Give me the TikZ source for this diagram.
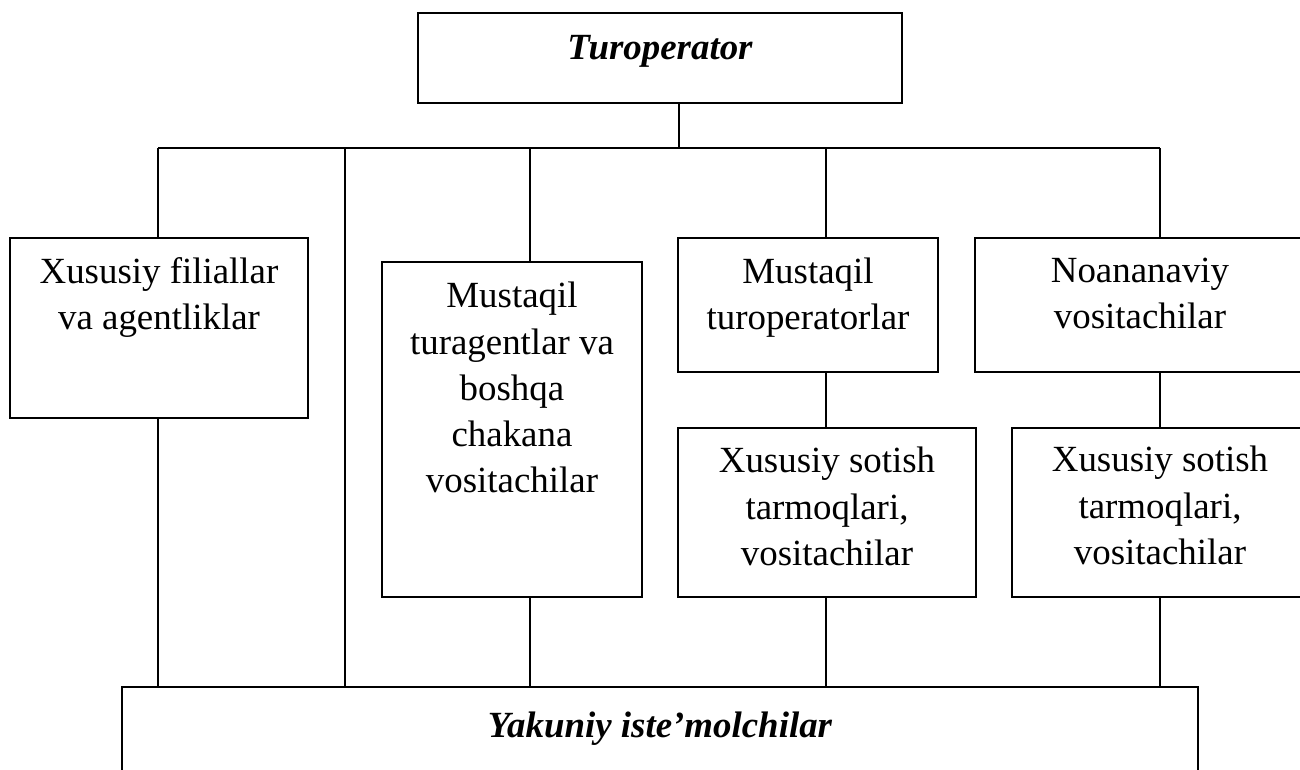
\documentclass[tikz,border=0pt]{standalone}
\usepackage{fontspec}
\setmainfont{Liberation Serif}
\usetikzlibrary{fit}

\tikzset{
  box/.style={draw, line width=0.9pt, inner sep=0pt},
  words/.style={anchor=north, inner sep=0pt, align=center, font=\fontsize{21}{26.2}\selectfont},
  head/.style={words, font=\fontsize{21}{26.2}\selectfont\bfseries\itshape},
  link/.style={line width=0.8pt},
}

\begin{document}
\begin{tikzpicture}[x=0.02cm, y=-0.02cm]
\useasboundingbox (0,0) rectangle (1300,769);
\clip (0,0) rectangle (1300,769);
% boxes
\node [box, fit={(418,13) (902,103)}] (tour) {};
\node [box, fit={(10,238) (308,418)}] (filial) {};
\node [box, fit={(382,262) (642,597)}] (agent) {};
\node [box, fit={(678,238) (938,372)}] (mustaqil) {};
\node [box, fit={(975,238) (1305,372)}] (noan) {};
\node [box, fit={(678,428) (976,597)}] (sotishA) {};
\node [box, fit={(1012,428) (1308,597)}] (sotishB) {};
\node [box, fit={(122,687) (1198,800)}] (yakun) {};
% texts
\node [head] (tourtext) at (660,35) {Turoperator};
\node [words] (filialtext) at (159,257) {Xususiy filiallar\\va agentliklar};
\node [words] (agenttext) at (512,282) {Mustaqil\\turagentlar va\\boshqa\\chakana\\vositachilar};
\node [words] (mustaqiltext) at (808,258) {Mustaqil\\turoperatorlar};
\node [words] (noantext) at (1140,258) {Noananaviy\\vositachilar};
\node [words] (sotishAtext) at (827,447) {Xususiy sotish\\tarmoqlari,\\vositachilar};
\node [words] (sotishBtext) at (1160,446) {Xususiy sotish\\tarmoqlari,\\vositachilar};
\node [head] (yakuntext) at (660,712) {Yakuniy iste’molchilar};
% bus under the operator
\coordinate (busT) at (679,148);
\coordinate (busA) at (158,148);
\coordinate (busB) at (345,148);
\coordinate (busC) at (530,148);
\coordinate (busD) at (826,148);
\coordinate (busE) at (1160,148);
\draw [link] (tour.south -| busT) -- (busT);
\draw [link] (busA) -- (busE);
% down to the channels
\draw [link] (busA) -- (busA |- filial.north);
\draw [link] (busB) -- (busB |- yakun.north);
\draw [link] (busC) -- (busC |- agent.north);
\draw [link] (busD) -- (busD |- mustaqil.north);
\draw [link] (busE) -- (busE |- noan.north);
\draw [link] (mustaqil.south -| busD) -- (sotishA.north -| busD);
\draw [link] (noan.south -| busE) -- (sotishB.north -| busE);
% down to the consumers
\draw [link] (filial.south -| busA) -- (yakun.north -| busA);
\draw [link] (agent.south -| busC) -- (yakun.north -| busC);
\draw [link] (sotishA.south -| busD) -- (yakun.north -| busD);
\draw [link] (sotishB.south -| busE) -- (yakun.north -| busE);
\end{tikzpicture}
\end{document}
